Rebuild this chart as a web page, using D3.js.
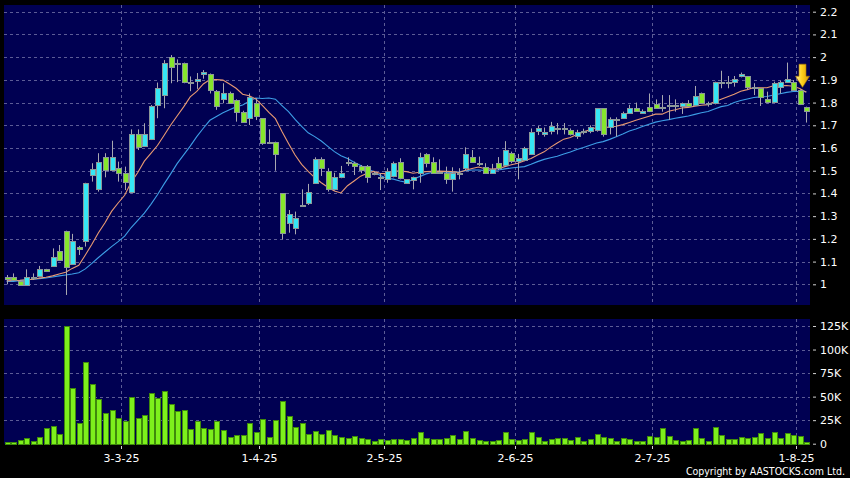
<!DOCTYPE html>
<html><head><meta charset="utf-8">
<script src="https://cdn.jsdelivr.net/npm/d3@7"></script>
<style>html,body{margin:0;padding:0;background:#000;}svg{display:block;}</style>
</head><body>
<svg id="c" width="850" height="478"></svg>
<script>
// ---- data ----
const open = [1.031,1.034,1.016,0.997,1.030,1.037,1.066,1.081,1.148,1.236,
1.089,1.166,1.189,1.481,1.420,1.559,1.503,1.511,1.489,1.408,
1.660,1.609,1.641,1.789,1.833,2.002,1.972,1.973,1.892,1.893,
1.924,1.924,1.852,1.814,1.844,1.811,1.760,1.731,1.800,1.731,
1.626,1.628,1.400,1.271,1.246,1.347,1.359,1.447,1.550,1.500,
1.418,1.471,1.537,1.533,1.521,1.521,1.490,1.474,1.462,1.477,
1.540,1.447,1.459,1.491,1.572,1.540,1.496,1.489,1.462,1.486,
1.511,1.559,1.533,1.518,1.489,1.533,1.525,1.580,1.543,1.547,
1.572,1.674,1.661,1.674,1.685,1.686,1.679,1.653,1.672,1.675,
1.679,1.775,1.691,1.727,1.731,1.753,1.775,1.756,1.782,1.792,
1.781,1.788,1.788,1.785,1.800,1.789,1.844,1.796,1.797,1.888,
1.892,1.892,1.917,1.917,1.866,1.863,1.814,1.804,1.867,1.892,
1.892,1.855,1.782];
const high = [1.041,1.048,1.018,1.066,1.048,1.081,1.068,1.158,1.173,1.236,
1.222,1.169,1.447,1.533,1.577,1.577,1.632,1.540,1.518,1.682,
1.682,1.709,1.789,1.888,1.987,2.009,1.990,1.976,1.915,1.930,
1.943,1.928,1.855,1.885,1.848,1.814,1.764,1.840,1.819,1.731,
1.682,1.628,1.400,1.327,1.320,1.418,1.442,1.559,1.559,1.511,
1.491,1.521,1.559,1.540,1.525,1.525,1.496,1.489,1.511,1.540,
1.555,1.462,1.474,1.579,1.577,1.559,1.550,1.518,1.515,1.511,
1.603,1.591,1.562,1.533,1.530,1.560,1.630,1.584,1.574,1.605,
1.686,1.697,1.690,1.715,1.710,1.710,1.686,1.680,1.685,1.700,
1.775,1.775,1.735,1.735,1.760,1.790,1.800,1.770,1.840,1.814,
1.833,1.833,1.814,1.800,1.811,1.873,1.844,1.804,1.892,1.940,
1.917,1.917,1.932,1.917,1.885,1.863,1.848,1.892,1.896,1.976,
1.899,1.858,1.782];
const low = [1.000,1.016,0.995,0.993,1.019,1.031,1.054,1.078,1.104,0.953,
1.089,1.129,1.166,1.452,1.408,1.471,1.503,1.452,1.415,1.401,
1.591,1.606,1.635,1.731,1.775,1.885,1.890,1.885,1.850,1.860,
1.905,1.840,1.768,1.797,1.797,1.716,1.712,1.701,1.723,1.614,
1.621,1.500,1.198,1.227,1.220,1.344,1.349,1.444,1.477,1.408,
1.412,1.467,1.521,1.481,1.489,1.447,1.480,1.415,1.447,1.471,
1.462,1.442,1.418,1.447,1.515,1.489,1.489,1.442,1.408,1.462,
1.500,1.536,1.521,1.486,1.486,1.503,1.518,1.533,1.462,1.542,
1.569,1.657,1.650,1.660,1.660,1.660,1.655,1.640,1.660,1.665,
1.672,1.650,1.660,1.650,1.728,1.750,1.760,1.750,1.758,1.775,
1.760,1.723,1.760,1.750,1.782,1.785,1.797,1.782,1.792,1.863,
1.863,1.870,1.911,1.858,1.833,1.785,1.797,1.800,1.840,1.888,
1.852,1.789,1.712];
const close = [1.022,1.019,0.997,1.034,1.031,1.066,1.057,1.119,1.107,1.078,
1.189,1.157,1.447,1.509,1.540,1.503,1.559,1.489,1.449,1.660,
1.606,1.660,1.785,1.863,1.973,1.955,1.970,1.892,1.885,1.902,
1.933,1.855,1.785,1.844,1.800,1.760,1.716,1.823,1.741,1.621,
1.628,1.574,1.227,1.310,1.290,1.350,1.408,1.550,1.511,1.418,
1.471,1.489,1.540,1.521,1.503,1.474,1.489,1.467,1.500,1.533,
1.467,1.462,1.471,1.559,1.533,1.491,1.496,1.462,1.489,1.488,
1.572,1.540,1.534,1.489,1.506,1.510,1.590,1.542,1.557,1.601,
1.672,1.688,1.672,1.698,1.687,1.686,1.661,1.672,1.673,1.691,
1.775,1.660,1.728,1.728,1.753,1.775,1.763,1.763,1.763,1.778,
1.782,1.789,1.789,1.800,1.785,1.829,1.800,1.797,1.892,1.889,
1.885,1.902,1.924,1.870,1.867,1.823,1.803,1.885,1.892,1.902,
1.855,1.794,1.763];
const volumeK = [1.8,1.8,3.5,5.6,2.8,7,16.2,18.7,10.6,125.5,
59.5,21.8,86.6,63,47.5,32.4,36.3,27.8,23.6,50,
27.5,31,54.2,48.2,56.3,42.3,34.5,35.9,15.5,23.6,
16.5,15.5,24,14.4,7.4,9.5,9.5,21.8,12.3,26,
7,25.4,45.4,29.2,17.3,22.2,9.9,13.4,10.6,14.4,
9.2,7.4,6,8.5,5.6,4.9,2.5,4.6,4.2,4.6,
4.9,3.9,5.6,12,6,4.6,4.6,6.3,8.8,4.6,
13.7,6.3,3.9,2.5,3.2,3.5,12,4.6,3.9,4.9,
12.3,7,3.2,5,6.3,5.6,3.9,7,3.2,4.6,
9.9,7.4,5.6,3.2,6,4.6,3.2,3.2,8.1,6.7,
16.6,8.1,3.9,3.2,3.9,16.3,5.6,3.2,17.7,8.8,
5.3,5.3,7,5.6,7.4,11,6,12,6,11,
8.8,8.5,2.1];
const ma10 = [1.015,1.017,1.018,1.020,1.022,1.027,1.031,1.037,1.045,1.053,
1.070,1.084,1.129,1.176,1.227,1.271,1.321,1.358,1.392,1.450,
1.492,1.542,1.576,1.611,1.655,1.700,1.741,1.781,1.825,1.849,
1.882,1.901,1.901,1.899,1.882,1.863,1.837,1.830,1.816,1.788,
1.757,1.729,1.673,1.620,1.569,1.528,1.497,1.470,1.447,1.427,
1.411,1.402,1.434,1.455,1.476,1.489,1.497,1.488,1.487,1.499,
1.498,1.496,1.489,1.493,1.496,1.497,1.498,1.497,1.496,1.492,
1.502,1.510,1.516,1.509,1.507,1.509,1.518,1.526,1.533,1.544,
1.554,1.569,1.583,1.604,1.622,1.639,1.646,1.659,1.671,1.680,
1.690,1.688,1.693,1.696,1.703,1.712,1.722,1.731,1.740,1.749,
1.749,1.762,1.768,1.776,1.779,1.784,1.788,1.791,1.804,1.815,
1.826,1.837,1.850,1.857,1.866,1.865,1.865,1.874,1.874,1.875,
1.872,1.862,1.845];
const ma20 = [1.012,1.013,1.016,1.019,1.022,1.025,1.028,1.032,1.037,1.041,
1.045,1.051,1.068,1.092,1.118,1.142,1.166,1.188,1.212,1.250,
1.281,1.313,1.352,1.394,1.441,1.485,1.531,1.570,1.608,1.650,
1.687,1.722,1.739,1.755,1.768,1.781,1.789,1.806,1.820,1.818,
1.820,1.815,1.787,1.760,1.726,1.695,1.667,1.650,1.631,1.607,
1.584,1.566,1.554,1.537,1.523,1.508,1.497,1.479,1.467,1.463,
1.455,1.449,1.461,1.474,1.486,1.493,1.497,1.493,1.492,1.495,
1.500,1.503,1.503,1.501,1.501,1.503,1.508,1.512,1.515,1.518,
1.528,1.540,1.550,1.557,1.564,1.574,1.582,1.593,1.602,1.612,
1.622,1.628,1.638,1.650,1.662,1.675,1.684,1.695,1.705,1.714,
1.720,1.725,1.731,1.736,1.741,1.748,1.755,1.761,1.772,1.782,
1.787,1.800,1.809,1.816,1.822,1.825,1.827,1.833,1.839,1.845,
1.849,1.849,1.848];
const dateLabels = ['3-3-25','1-4-25','2-5-25','2-6-25','2-7-25','1-8-25'];
const dateIndex = [18, 39, 58, 78, 99, 121];
const priceTicks = [1,1.1,1.2,1.3,1.4,1.5,1.6,1.7,1.8,1.9,2,2.1,2.2];
const volTicks = [0,25000,50000,75000,100000,125000];
const volTickLabels = ['0','25K','50K','75K','100K','125K'];
const arrowIndex = 121;
const arrowTop = 1.969, arrowTip = 1.867;

// ---- layout ----
const W = 850, H = 478;
const plotL = 4, plotR = 810;
const pTop = 5, pBot = 305;
const vTop = 319, vBot = 444;
const n = close.length;
const step = 6.554;
const x = d3.scaleBand().domain(d3.range(n)).range([3.42, 3.42 + n*step]);
const cx = i => x(i) + x.bandwidth()/2;
const yP = d3.scaleLinear().domain([1, 2.2]).range([284.3, 11.7]);
const yV = d3.scaleLinear().domain([0, 125000]).range([443.7, 326]);

const svg = d3.select('#c');
svg.append('rect').attr('width', W).attr('height', H).attr('fill', '#000');
svg.append('rect').attr('x', plotL).attr('y', pTop).attr('width', plotR-plotL).attr('height', pBot-pTop).attr('fill', '#000052');
svg.append('rect').attr('x', plotL).attr('y', vTop).attr('width', plotR-plotL).attr('height', vBot-vTop).attr('fill', '#000052');

const gridCol = '#5c5c96';
const grid = svg.append('g').attr('stroke', gridCol).attr('stroke-width', 1).attr('stroke-dasharray', '3,3').attr('fill','none');
priceTicks.forEach(t => {
  const yy = Math.round(yP(t)) + 0.5;
  grid.append('line').attr('x1', plotL).attr('x2', plotR).attr('y1', yy).attr('y2', yy);
});
volTicks.slice(1).forEach(t => {
  const yy = Math.round(yV(t)) + 0.5;
  grid.append('line').attr('x1', plotL).attr('x2', plotR).attr('y1', yy).attr('y2', yy);
});
dateIndex.forEach(i => {
  const xx = Math.round(x(i)) + 0.5;
  grid.append('line').attr('x1', xx).attr('x2', xx).attr('y1', pTop).attr('y2', pBot);
  grid.append('line').attr('x1', xx).attr('x2', xx).attr('y1', vTop).attr('y2', vBot);
});

// moving averages
const line = d3.line().x((d,i) => cx(i)).y(d => yP(d));
svg.append('path').datum(ma20).attr('d', line).attr('fill','none').attr('stroke','#3d9ee6').attr('stroke-width',1.1);
svg.append('path').datum(ma10).attr('d', line).attr('fill','none').attr('stroke','#e99a72').attr('stroke-width',1.1);

// candles
const upCol = '#36e6f4', dnCol = '#86e62c';
const cg = svg.append('g');
d3.range(n).forEach(i => {
  const c = Math.round(cx(i));
  const up = close[i] >= open[i];
  cg.append('line').attr('x1', c+0.5).attr('x2', c+0.5)
    .attr('y1', yP(high[i])).attr('y2', yP(low[i]))
    .attr('stroke', '#a8a8b0').attr('stroke-width', 1);
  const yt = Math.round(yP(Math.max(open[i], close[i])));
  const yb = Math.round(yP(Math.min(open[i], close[i])));
  const h = Math.max(1, yb - yt);
  cg.append('rect').attr('x', c-1.5).attr('y', yt+0.5).attr('width', 5).attr('height', h)
    .attr('fill', up ? upCol : dnCol).attr('stroke', '#8c9898').attr('stroke-width', 1);
});

// volume bars
const vg = svg.append('g');
d3.range(n).forEach(i => {
  const c = Math.round(cx(i));
  const yt = Math.round(yV(volumeK[i]*1000));
  vg.append('rect').attr('x', c-1.5).attr('y', yt+0.5).attr('width', 5)
    .attr('height', Math.max(0.5, Math.round(yV(0)) - yt))
    .attr('fill', '#7df01c').attr('stroke', '#3f8a0c').attr('stroke-width', 1);
});

// arrow
const defs = svg.append('defs');
const gr = defs.append('linearGradient').attr('id','ag').attr('x1','0').attr('x2','1').attr('y1','0').attr('y2','0');
gr.append('stop').attr('offset','0').attr('stop-color','#fff0a0');
gr.append('stop').attr('offset','0.45').attr('stop-color','#ffd21e');
gr.append('stop').attr('offset','1').attr('stop-color','#d99a00');
const ax = (cx(arrowIndex) + cx(arrowIndex+1)) / 2 - 0.5;
const at = yP(arrowTop), ap = yP(arrowTip);
const neck = at + (ap - at) * 0.52;
const arrowPath = `M${ax-3.5},${at} L${ax+3.5},${at} L${ax+3.5},${neck} L${ax+7},${neck} L${ax},${ap} L${ax-7},${neck} L${ax-3.5},${neck} Z`;
svg.append('path').attr('d', arrowPath).attr('fill','url(#ag)').attr('stroke','#b07a00').attr('stroke-width',0.6);

// axes
const font = '"DejaVu Sans", Verdana, sans-serif';
const pa = svg.append('g').attr('transform', `translate(${plotR+3},0)`)
  .call(d3.axisRight(yP).tickValues(priceTicks).tickSize(3).tickPadding(4).tickFormat(d => String(+d.toFixed(1))));
const va = svg.append('g').attr('transform', `translate(${plotR+3},0)`)
  .call(d3.axisRight(yV).tickValues(volTicks).tickSize(3).tickPadding(4).tickFormat((d,i) => volTickLabels[i]));
[pa, va].forEach(g => {
  g.select('.domain').remove();
  g.selectAll('line').attr('stroke', '#d0d0d0');
  g.selectAll('text').attr('fill', '#ffffff').style('font-family', font).style('font-size', '11px');
});
const xa = svg.append('g');
dateIndex.forEach((i, k) => {
  const xx = Math.round(x(i)) + 0.5;
  xa.append('line').attr('x1', xx).attr('x2', xx).attr('y1', vBot + 2).attr('y2', vBot + 5).attr('stroke', '#d0d0d0');
  xa.append('text').attr('x', xx).attr('y', 462).attr('text-anchor','middle')
    .attr('fill','#ffffff').style('font-family', font).style('font-size','11px').text(dateLabels[k]);
});
svg.append('text').attr('x', 845).attr('y', 475).attr('text-anchor','end')
  .attr('fill','#ffffff').style('font-family', '"DejaVu Sans Condensed", "DejaVu Sans", sans-serif').style('font-size','10.5px')
  .text('Copyright by AASTOCKS.com Ltd.');
</script>
</body></html>
